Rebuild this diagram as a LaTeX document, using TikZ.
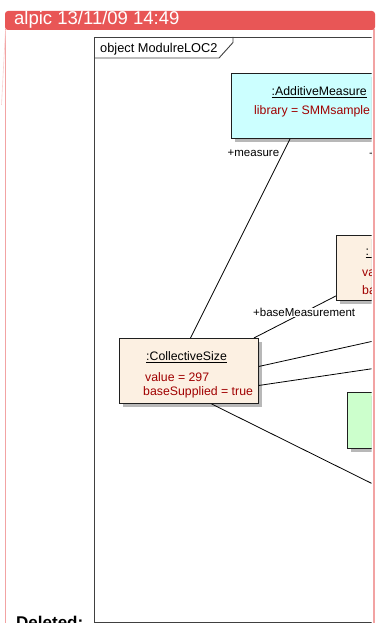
\documentclass[tikz,border=0pt]{standalone}
\usepackage{fontspec}
\setmainfont{Liberation Sans}
\usetikzlibrary{shadows}
\definecolor{hdrred}{HTML}{E85656}
\definecolor{pinkline}{HTML}{F2A3A3}
\definecolor{cyanfill}{HTML}{CCFFFF}
\definecolor{peachfill}{HTML}{FCF0E2}
\definecolor{greenfill}{HTML}{CCFFCC}
\definecolor{attrred}{HTML}{A00000}
\definecolor{framegray}{HTML}{404040}
\begin{document}
\begin{tikzpicture}[x=1pt,y=-1pt,
  objbox/.style={draw=black!88, line width=0.9pt, inner sep=0pt, anchor=north west,
    drop shadow={shadow xshift=4pt, shadow yshift=-4pt, fill=black!28, opacity=1}},
  objtxt/.style={anchor=base west, inner sep=0pt, font=\fontsize{12.3}{14}\selectfont},
  attrtxt/.style={objtxt, text=attrred},
  roletxt/.style={anchor=base west, inner sep=0pt, font=\fontsize{11.5}{13}\selectfont},
  link/.style={draw=black, line width=0.8pt}]
\useasboundingbox (0,0) rectangle (377,623);
% comment box outline and header
\draw[pinkline, line width=1.3pt] (5.5,29) -- (5.5,623);
\draw[pinkline, line width=1.3pt] (374,29) -- (374,623);
\draw[pinkline!50, line width=0.6pt] (5.5,30) -- (1.5,105);
\fill[hdrred, rounded corners=3pt] (5,30) -- (5,11) -- (375,11) -- (375,30) -- cycle;
\node[anchor=base west, inner sep=0pt, text=white, font=\fontsize{18.5}{20}\selectfont] (hdr) at (14,24.5) {alpic 13/11/09 14:49};
\node[anchor=base west, inner sep=0pt, font=\bfseries\fontsize{17}{19}\selectfont] (del) at (16,628.5) {Deleted:};
\begin{scope}
\clip (0,0) rectangle (371.5,623);
% frame
\draw[framegray, line width=0.9pt] (94,622) -- (94,37) -- (420,37);
\draw[framegray, line width=0.9pt] (94,622) -- (420,622);
\draw[framegray, line width=0.9pt] (94,58) -- (219,58) -- (233,42.5) -- (233,37);
\node[anchor=base west, inner sep=0pt, font=\fontsize{12.8}{14}\selectfont] (frlabel) at (100,52.3) {object ModulreLOC2};
% objects
\node[objbox, fill=cyanfill, minimum width=200pt, minimum height=65pt] (am) at (231,73) {};
\node[objtxt] (amname) at (271.5,95.7) {\underline{:AdditiveMeasure}};
\node[attrtxt] (amattr) at (254,114.3) {library = SMMsample};

\node[objbox, fill=peachfill, minimum width=120pt, minimum height=65pt] (bm) at (336,235) {};
\node[objtxt] (bmname) at (365.5,255.5) {\underline{:\hspace{8pt}}};
\node[attrtxt] (bmattr1) at (362,276.5) {va};
\node[attrtxt] (bmattr2) at (362,294) {ba};

\node[objbox, fill=peachfill, minimum width=139pt, minimum height=65pt] (cs) at (119,338) {};
\node[objtxt] (csname) at (146,360.5) {\underline{:CollectiveSize}};
\node[attrtxt] (csattr1) at (145,381) {value = 297};
\node[attrtxt] (csattr2) at (143,395.5) {baseSupplied = true};

\node[objbox, fill=greenfill, minimum width=120pt, minimum height=56pt] (gb) at (347,392) {};

% free ends of the links leaving the picture
\coordinate (t1) at (371.5,341.5);
\coordinate (t2) at (371.5,368.8);
\coordinate (t3) at (371.5,483.3);
% links
\draw[link] ([xshift=59pt]am.south west) -- ([xshift=1.5pt]cs.north);
\draw[link] ([yshift=5pt]bm.south west) -- ([xshift=-5pt]cs.north east);
\draw[link] ([yshift=4.5pt]cs.east) -- (t1);
\draw[link] ([yshift=-14.5pt]cs.east) -- (t2);
\draw[link] ([xshift=22.5pt]cs.south) -- (t3);
% role labels
\node[roletxt, fill=white, inner sep=0.5pt] (rmeas) at (227,156.5) {+measure};
\node[roletxt, fill=white, inner sep=0.5pt] (rbase) at (252.5,316.5) {+baseMeasurement};
\node[roletxt] (rright) at (369,157.5) {+};
\end{scope}
\end{tikzpicture}
\end{document}
